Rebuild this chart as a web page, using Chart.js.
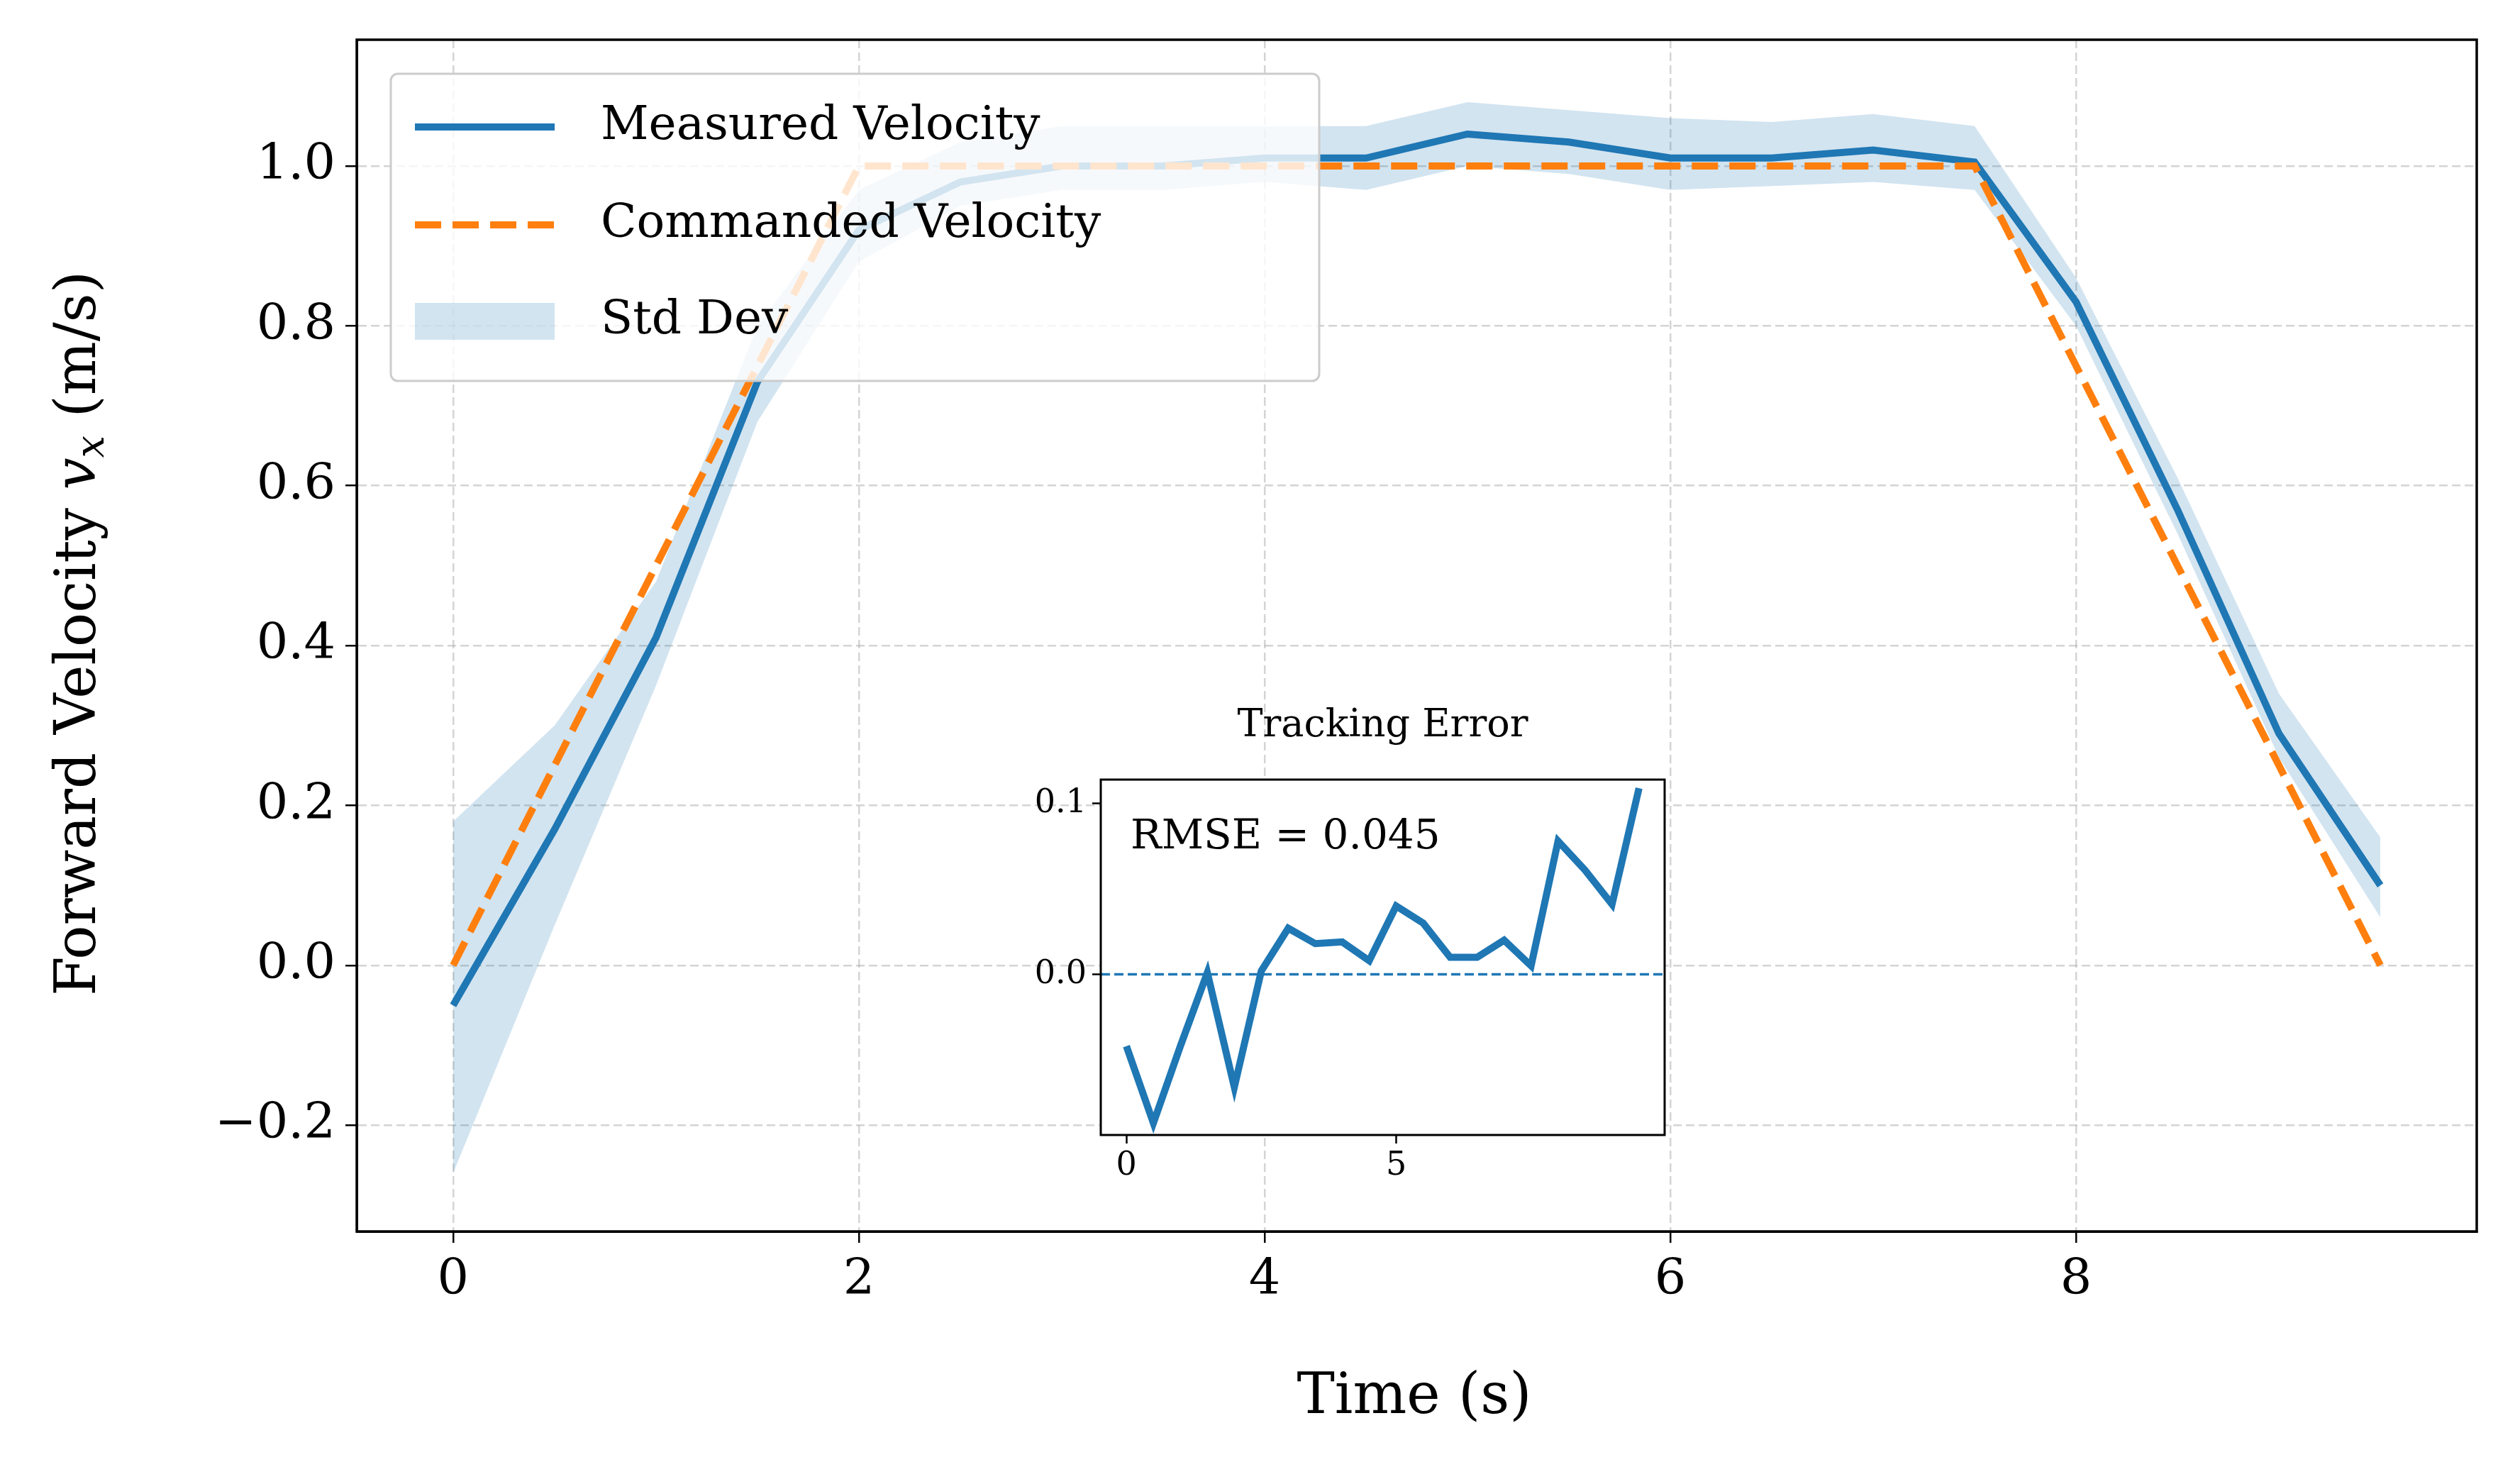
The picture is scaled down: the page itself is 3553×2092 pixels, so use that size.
<!DOCTYPE html>
<html><head><meta charset="utf-8">
<script src="https://cdn.jsdelivr.net/npm/chart.js@4"></script>
<style>html,body{margin:0;padding:0;background:#fff;overflow:hidden}
#main{position:absolute;left:0;top:0}
#inset{position:absolute;left:1300px;top:960px}</style></head>
<body>
<canvas id="main" width="3553" height="2092"></canvas>
<canvas id="inset" width="1200" height="720"></canvas>
<script>
const times = [0,0.5,1,1.5,2,2.5,3,3.5,4,4.5,5,5.5,6,6.5,7,7.5,8,8.5,9,9.5];
const measured = [-0.05,0.17,0.41,0.73,0.92,0.98,1.0,1.0,1.01,1.01,1.04,1.03,1.01,1.01,1.02,1.005,0.83,0.57,0.29,0.10];
const commanded = [0,0.25,0.5,0.75,1,1,1,1,1,1,1,1,1,1,1,1,0.75,0.5,0.25,0];
const stdLower = [-0.26,0.05,0.35,0.68,0.88,0.95,0.97,0.97,0.98,0.97,1.0,0.99,0.97,0.975,0.98,0.97,0.80,0.54,0.26,0.06];
const stdUpper = [0.18,0.30,0.48,0.80,0.97,1.03,1.05,1.05,1.05,1.05,1.08,1.07,1.06,1.055,1.065,1.05,0.86,0.61,0.34,0.16];
const trackErr = [-0.042,-0.087,-0.042,0.001,-0.066,0.002,0.027,0.018,0.019,0.008,0.040,0.030,0.010,0.010,0.020,0.005,0.078,0.061,0.041,0.109];
const xTicks = [0,2,4,6,8];
const yTicks = [-0.2,0,0.2,0.4,0.6,0.8,1.0];
const insetXTicks = [0,5];
const insetYTicks = [0,0.1];
const legendLabels = ['Measured Velocity','Commanded Velocity','Std Dev'];

const BLUE='#1f77b4', ORANGE='#ff7f0e', BAND='rgba(31,119,180,0.2)';
const F='"DejaVu Serif", serif';
const pts = a => a.map((v,i)=>({x:times[i],y:v}));
const fmt = v => (v<0?'\u2212':'')+Math.abs(v).toFixed(1);
const GRID={color:'rgba(176,176,176,0.55)',lineWidth:2.5,tickLength:16,tickColor:'#000',tickWidth:2.5};

const overlay = {
  id:'overlay',
  afterDatasetsDraw(ch){
    const c=ch.ctx; c.save();
    const x0=551,y0=104,w=1309,h=433;
    c.beginPath(); c.roundRect(x0,y0,w,h,10);
    c.fillStyle='rgba(255,255,255,0.8)'; c.fill();
    c.strokeStyle='#cccccc'; c.lineWidth=3; c.stroke();
    const ys=[179,317,453];
    c.lineWidth=10; c.strokeStyle=BLUE; c.setLineDash([]);
    c.beginPath(); c.moveTo(585,ys[0]); c.lineTo(782,ys[0]); c.stroke();
    c.strokeStyle=ORANGE; c.setLineDash([37,16]);
    c.beginPath(); c.moveTo(585,ys[1]); c.lineTo(782,ys[1]); c.stroke();
    c.setLineDash([]); c.fillStyle=BAND; c.fillRect(585,ys[2]-26,197,52);
    c.fillStyle='#000'; c.font='66px '+F; c.textBaseline='middle';
    legendLabels.forEach((t,i)=>c.fillText(t,847,ys[i]));
    c.restore();
  },
  afterDraw(ch){
    const c=ch.ctx,a=ch.chartArea; c.save();
    c.strokeStyle='#000'; c.lineWidth=3.5; c.setLineDash([]);
    c.strokeRect(a.left,a.top,a.right-a.left,a.bottom-a.top);
    c.fillStyle='#000';
    c.font='80px '+F; c.textAlign='center'; c.textBaseline='middle';
    c.fillText('Time (s)',1994,1971);
    c.translate(113,893); c.rotate(-Math.PI/2);
    const p1='Forward Velocity ', p3=' (m/s)';
    c.font='80px '+F; const w1=c.measureText(p1).width, w3=c.measureText(p3).width;
    c.font='italic 80px '+F; const w2=c.measureText('v').width;
    c.font='italic 56px '+F; const w2b=c.measureText('x').width;
    const tot=w1+w2+w2b+w3; let x=-tot/2; c.textAlign='left';
    c.font='80px '+F; c.fillText(p1,x,0); x+=w1;
    c.font='italic 80px '+F; c.fillText('v',x,0); x+=w2;
    c.font='italic 56px '+F; c.fillText('x',x,18); x+=w2b;
    c.font='80px '+F; c.fillText(p3,x,0);
    c.restore();
  }
};

new Chart(document.getElementById('main'),{
  type:'line',
  data:{datasets:[
    {data:pts(stdLower),borderWidth:0,pointRadius:0,fill:false,order:3,backgroundColor:BAND},
    {data:pts(stdUpper),borderWidth:0,pointRadius:0,fill:'-1',order:2,backgroundColor:BAND},
    {data:pts(measured),borderColor:BLUE,borderWidth:10,pointRadius:0,fill:false,order:1},
    {data:pts(commanded),borderColor:ORANGE,borderWidth:10,borderDash:[37,16],pointRadius:0,fill:false,order:0}
  ]},
  options:{
    responsive:false,animation:false,devicePixelRatio:1,
    layout:{padding:{left:0,top:50,right:61,bottom:0}},
    plugins:{legend:{display:false},tooltip:{enabled:false}},
    elements:{line:{tension:0}},
    scales:{
      x:{type:'linear',min:-0.475,max:9.975,
        afterBuildTicks:s=>{s.ticks=xTicks.map(v=>({value:v}));},
        afterFit:s=>{s.height=356;},
        grid:GRID,
        border:{display:true,color:'#000',width:3,dash:[12,6]},
        ticks:{font:{family:F,size:70},color:'#000',padding:12,maxRotation:0,callback:v=>String(v)}},
      y:{type:'linear',min:-0.333,max:1.158,
        afterBuildTicks:s=>{s.ticks=yTicks.map(v=>({value:v}));},
        afterFit:s=>{s.width=503;},
        grid:GRID,
        border:{display:true,color:'#000',width:3,dash:[12,6]},
        ticks:{font:{family:F,size:70},color:'#000',padding:14,callback:v=>fmt(v)}}
    }
  },
  plugins:[overlay]
});

// inset chart area target in page coords: 1552..2447 x, 1099..1600 y
const insetOverlay={
  id:'io',
  beforeDraw(ch){const c=ch.ctx;c.save();c.fillStyle='#fff';const a=ch.chartArea;c.fillRect(a.left,a.top,a.right-a.left,a.bottom-a.top);c.restore();},
  afterDraw(ch){
    const c=ch.ctx,a=ch.chartArea; c.save();
    c.strokeStyle='#000'; c.lineWidth=3; c.setLineDash([]);
    c.strokeRect(a.left,a.top,a.right-a.left,a.bottom-a.top);
    c.fillStyle='#000'; c.font='54px '+F; c.textAlign='center'; c.textBaseline='middle';
    c.fillText('Tracking Error',(a.left+a.right)/2,a.top-75);
    c.textAlign='left'; c.font='58px '+F; c.fillText('RMSE = 0.045',a.left+42,a.top+82);
    c.restore();
  }
};
new Chart(document.getElementById('inset'),{
  type:'line',
  data:{datasets:[
    {data:pts(trackErr),borderColor:BLUE,borderWidth:10,pointRadius:0,fill:false,order:0},
    {data:[{x:-0.475,y:0},{x:9.975,y:0}],borderColor:BLUE,borderWidth:3.5,borderDash:[13,6],pointRadius:0,fill:false,order:1}
  ]},
  options:{
    responsive:false,animation:false,devicePixelRatio:1,
    layout:{padding:{left:0,top:139,right:153,bottom:0}},
    plugins:{legend:{display:false},tooltip:{enabled:false}},
    elements:{line:{tension:0}},
    scales:{
      x:{type:'linear',min:-0.475,max:9.975,
        afterBuildTicks:s=>{s.ticks=insetXTicks.map(v=>({value:v}));},
        afterFit:s=>{s.height=80;},
        grid:{drawOnChartArea:false,tickLength:12,tickColor:'#000',tickWidth:2.5},
        border:{display:false},
        ticks:{font:{family:F,size:46},color:'#000',padding:4,maxRotation:0,callback:v=>String(v)}},
      y:{type:'linear',min:-0.094,max:0.114,
        afterBuildTicks:s=>{s.ticks=insetYTicks.map(v=>({value:v}));},
        afterFit:s=>{s.width=252;},
        grid:{drawOnChartArea:false,tickLength:12,tickColor:'#000',tickWidth:2.5},
        border:{display:false},
        ticks:{font:{family:F,size:46},color:'#000',padding:8,callback:v=>v.toFixed(1)}}
    }
  },
  plugins:[insetOverlay]
});
</script>
</body></html>
